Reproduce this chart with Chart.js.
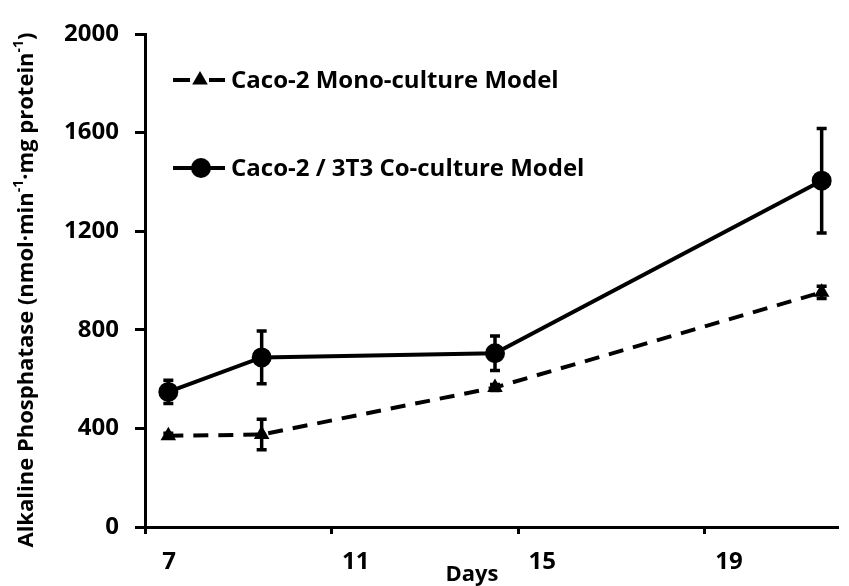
<!DOCTYPE html>
<html>
<head>
<meta charset="utf-8">
<script src="https://cdn.jsdelivr.net/npm/chart.js@4.4.1/dist/chart.umd.min.js"></script>
<style>
  html, body { margin: 0; padding: 0; background: #fff; }
  #wrap { width: 849px; height: 586px; }
</style>
</head>
<body>
<div id="wrap"><canvas id="c" width="849" height="586"></canvas></div>
<script>
// Alkaline phosphatase activity over culture time
const days = [7, 9, 14, 21];
const monoValues = [370, 375, 566, 952];
const monoErrors = [10, 62, 12, 25];
const coValues = [548, 688, 705, 1405];
const coErrors = [47, 107, 70, 212];
const xTickDays = [7, 11, 15, 19];
const yTicks = [0, 400, 800, 1200, 1600, 2000];

const monoLabel = 'Caco-2 Mono-culture Model';
const coLabel = 'Caco-2 / 3T3 Co-culture Model';
const xTitle = 'Days';
const yTitleParts = [
  { t: 'Alkaline Phosphatase (nmol·min', sup: false },
  { t: '-1', sup: true },
  { t: '·mg protein', sup: false },
  { t: '-1', sup: true },
  { t: ')', sup: false }
];

const FONT = "'Open Sans', 'Liberation Sans', sans-serif";
const INK = '#000';

// vertical error bars with caps for each dataset
const errorBars = {
  id: 'errorBars',
  afterDatasetsDraw(chart) {
    const { ctx, scales: { x, y } } = chart;
    const sets = [[monoValues, monoErrors], [coValues, coErrors]];
    ctx.save();
    ctx.strokeStyle = INK;
    ctx.lineWidth = 3.5;
    sets.forEach(([vals, errs]) => {
      vals.forEach((v, i) => {
        const px = x.getPixelForValue(days[i]);
        const top = y.getPixelForValue(v + errs[i]);
        const bot = y.getPixelForValue(v - errs[i]);
        ctx.beginPath();
        ctx.moveTo(px, top); ctx.lineTo(px, bot);
        ctx.moveTo(px - 5, top); ctx.lineTo(px + 5, top);
        ctx.moveTo(px - 5, bot); ctx.lineTo(px + 5, bot);
        ctx.stroke();
      });
    });
    ctx.restore();
  }
};

// legend, axis titles
const annotations = {
  id: 'annotations',
  afterDraw(chart) {
    const { ctx } = chart;
    ctx.save();
    ctx.fillStyle = INK;
    ctx.strokeStyle = INK;

    // legend rows
    const rows = [
      { label: monoLabel, y: 80, dash: true, style: 'triangle' },
      { label: coLabel, y: 168, dash: false, style: 'circle' }
    ];
    rows.forEach(r => {
      ctx.lineWidth = 4;
      ctx.beginPath();
      if (r.dash) {
        ctx.moveTo(173, r.y); ctx.lineTo(190, r.y);
        ctx.moveTo(209, r.y); ctx.lineTo(225, r.y);
      } else {
        ctx.moveTo(173, r.y); ctx.lineTo(225, r.y);
      }
      ctx.stroke();
      ctx.beginPath();
      if (r.style === 'triangle') {
        const s = 9;
        ctx.moveTo(200, r.y - s);
        ctx.lineTo(200 + s * 0.87, r.y + s * 0.5);
        ctx.lineTo(200 - s * 0.87, r.y + s * 0.5);
        ctx.closePath();
      } else {
        ctx.arc(201, r.y, 10, 0, Math.PI * 2);
      }
      ctx.fill();
      ctx.font = 'bold 24px ' + FONT;
      ctx.textAlign = 'left';
      ctx.textBaseline = 'middle';
      ctx.fillText(r.label, 231, r.y + 1);
    });

    // x axis title
    ctx.font = 'bold 22px ' + FONT;
    ctx.textAlign = 'center';
    ctx.textBaseline = 'middle';
    ctx.fillText(xTitle, 472, 575);

    // y axis title with superscripts
    const base = 'bold 22px ' + FONT;
    const small = 'bold 14px ' + FONT;
    let total = 0;
    yTitleParts.forEach(p => { ctx.font = p.sup ? small : base; total += ctx.measureText(p.t).width; });
    ctx.translate(27, 290);
    ctx.rotate(-Math.PI / 2);
    ctx.textAlign = 'left';
    ctx.textBaseline = 'middle';
    let cx = -total / 2;
    yTitleParts.forEach(p => {
      ctx.font = p.sup ? small : base;
      ctx.fillText(p.t, cx, p.sup ? -8 : 0);
      cx += ctx.measureText(p.t).width;
    });
    ctx.restore();
  }
};

new Chart(document.getElementById('c'), {
  type: 'line',
  data: {
    datasets: [
      {
        label: monoLabel,
        data: days.map((d, i) => ({ x: d, y: monoValues[i] })),
        borderColor: INK,
        backgroundColor: INK,
        borderWidth: 4,
        borderDash: [15, 10],
        pointStyle: 'triangle',
        pointRadius: 9,
        pointBorderWidth: 0,
        pointBackgroundColor: INK,
        tension: 0
      },
      {
        label: coLabel,
        data: days.map((d, i) => ({ x: d, y: coValues[i] })),
        borderColor: INK,
        backgroundColor: INK,
        borderWidth: 4,
        pointStyle: 'circle',
        pointRadius: 9,
        pointBorderWidth: 2,
        pointBackgroundColor: INK,
        tension: 0
      }
    ]
  },
  options: {
    responsive: false,
    animation: false,
    clip: false,
    layout: { padding: { top: 34, right: 0, left: 0, bottom: 0 } },
    plugins: { legend: { display: false }, tooltip: { enabled: false } },
    scales: {
      x: {
        type: 'linear',
        min: 6.5,
        max: 21.35,
        afterBuildTicks(scale) {
          scale.ticks = xTickDays.map(d => ({ value: d - 0.5 }));
        },
        afterFit(scale) { scale.height = 59; },
        ticks: {
          callback: (v, i) => String(xTickDays[i]),
          labelOffset: 24,
          padding: 14,
          color: INK,
          font: { family: FONT, size: 24, weight: 'bold' },
          maxRotation: 0,
          autoSkip: false
        },
        grid: { drawOnChartArea: false, drawTicks: true, tickLength: 7, color: INK, tickWidth: 3 },
        border: { color: INK, width: 3 }
      },
      y: {
        min: 0,
        max: 2000,
        afterBuildTicks(scale) {
          scale.ticks = yTicks.map(v => ({ value: v }));
        },
        afterFit(scale) { scale.width = 145; },
        ticks: {
          callback: v => String(v),
          padding: 16,
          color: INK,
          font: { family: FONT, size: 24, weight: 'bold' }
        },
        grid: { drawOnChartArea: false, drawTicks: true, tickLength: 10, color: INK, tickWidth: 3 },
        border: { color: INK, width: 3 }
      }
    }
  },
  plugins: [errorBars, annotations]
});
</script>
</body>
</html>
